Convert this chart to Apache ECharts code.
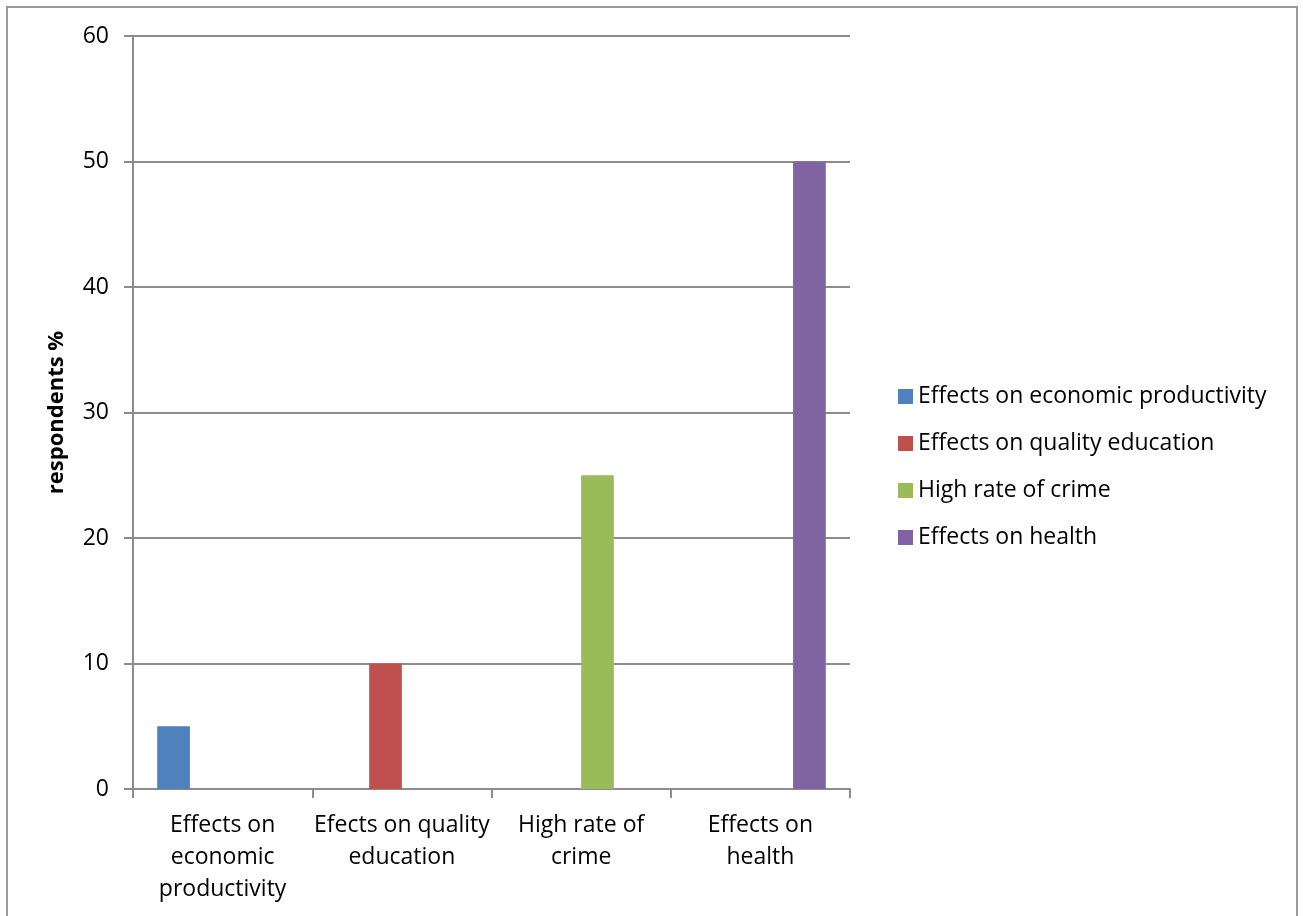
<!DOCTYPE html>
<html>
<head>
<meta charset="utf-8">
<script src="https://cdn.jsdelivr.net/npm/echarts@6/dist/echarts.min.js"></script>
<style>
  html, body { margin: 0; padding: 0; background: #fff; }
  #chart { width: 1303px; height: 916px; }
</style>
</head>
<body>
<div id="chart"></div>
<script>
// categories and per-series values (each series only fills its own category)
const categories = [
  'Effects on\neconomic\nproductivity',
  'Efects on quality\neducation',
  'High rate of\ncrime',
  'Effects on\nhealth',
];
const seriesNames = [
  'Effects on economic productivity',
  'Effects on quality education',
  'High rate of crime',
  'Effects on health',
];
const economicVals = [5, null, null, null];
const educationVals = [null, 10, null, null];
const crimeVals = [null, null, 25, null];
const healthVals = [null, null, null, 50];
const colors = ['#4f81bd', '#c0504d', '#9bbb59', '#8064a2'];

const FONT = '"Open Sans", sans-serif';
const AXIS_GREY = '#8c8c8c';

const chart = echarts.init(document.getElementById('chart'));

const dataSets = [economicVals, educationVals, crimeVals, healthVals];

chart.setOption({
  animation: false,
  textStyle: { fontFamily: FONT },
  graphic: [{
    type: 'rect',
    shape: { x: 7, y: 7, width: 1290, height: 920 },
    style: { fill: 'none', stroke: '#9a9a9a', lineWidth: 2 },
    silent: true,
  }],
  legend: {
    data: seriesNames,
    orient: 'vertical',
    left: 893,
    top: 380,
    itemWidth: 15,
    itemHeight: 15,
    itemGap: 24,
    icon: 'rect',
    textStyle: { color: '#000', fontSize: 23, fontFamily: FONT },
  },
  grid: { left: 133, right: 453, top: 36, bottom: 127 },
  xAxis: {
    type: 'category',
    data: categories,
    axisLine: { lineStyle: { color: AXIS_GREY, width: 2 } },
    axisTick: { show: true, length: 9, lineStyle: { color: AXIS_GREY, width: 2 } },
    axisLabel: {
      color: '#000', fontSize: 23, lineHeight: 32, margin: 20,
      fontFamily: FONT, interval: 0,
    },
  },
  yAxis: {
    type: 'value',
    min: 0, max: 60, interval: 10,
    name: 'respondents %',
    nameLocation: 'center',
    nameGap: 65,
    nameTextStyle: { color: '#000', fontSize: 22, fontWeight: 'bold', fontFamily: FONT },
    axisLine: { show: true, lineStyle: { color: AXIS_GREY, width: 2 } },
    axisTick: { show: true, length: 9, lineStyle: { color: AXIS_GREY, width: 2 } },
    axisLabel: { color: '#000', fontSize: 23, margin: 24, fontFamily: FONT },
    splitLine: { show: true, lineStyle: { color: AXIS_GREY, width: 2 } },
  },
  series: seriesNames.map((name, i) => ({
    name,
    type: 'bar',
    data: dataSets[i],
    barGap: '0%',
    barCategoryGap: '27%',
    itemStyle: { color: colors[i] },
  })),
});
</script>
</body>
</html>
